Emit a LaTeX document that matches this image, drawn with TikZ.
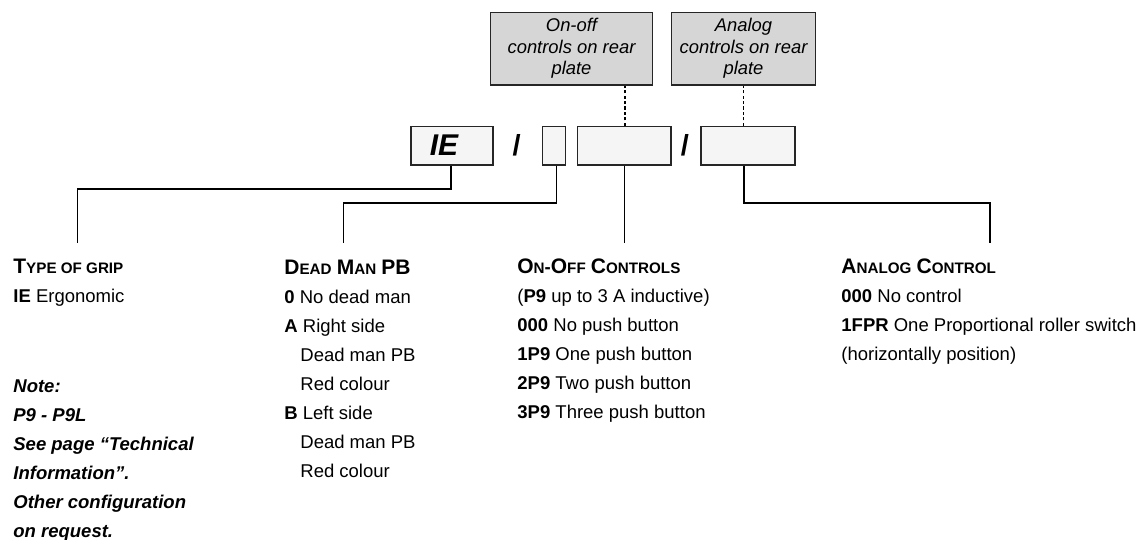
\documentclass[tikz,border=0pt]{standalone}
\usepackage{fontspec}
\setmainfont{Liberation Sans}
\newcommand\hdB[1]{{\fontsize{10.5}{14.5}\selectfont #1}}
\newcommand\hdS[1]{{\fontsize{7.6}{14.5}\selectfont #1}}
\begin{document}
\begin{tikzpicture}[x=0.5pt,y=-0.5pt,
  codebox/.style={draw=black!85, fill=black!4, line width=0.6pt, minimum height=19.25pt, inner sep=0pt},
  platebox/.style={draw=black!85, fill=black!16, line width=0.6pt, minimum height=36.35pt, inner sep=0pt,
    align=center, font=\itshape\fontsize{9.2}{10.75}\selectfont},
  link/.style={draw=black, line width=0.6pt},
  dashlink/.style={draw=black, line width=0.6pt, dash pattern=on 1.6pt off 1.1pt},
  col/.style={anchor=north west, align=left, inner sep=0pt, font=\fontsize{9.25}{14.5}\selectfont},
  slash/.style={font=\bfseries\fontsize{14.5}{16}\selectfont, inner sep=0pt, anchor=base}
]
\useasboundingbox (0,0) rectangle (1140,540);

% plate boxes
\node[platebox, minimum width=80.8pt] (onoff) at (571.5,48.65) {On-off\\controls on rear\\plate};
\node[platebox, minimum width=72.2pt] (analog) at (743.5,48.65) {Analog\\controls on rear\\plate};

% code boxes
\node[codebox, minimum width=41pt] (ie) at (452,145.75) {};
\node[anchor=base, inner sep=0pt, font=\bfseries\itshape\fontsize{15}{16}\selectfont] (ietext) at (444,155.5) {IE};
\node[slash] (s1) at (516.7,155.5) {/};
\node[codebox, minimum width=11.5pt] (sb) at (554.2,145.75) {};
\node[codebox, minimum width=46.65pt] (b3) at (624.35,145.75) {};
\node[slash] (s2) at (685,155.5) {/};
\node[codebox, minimum width=47pt] (b4) at (748,145.75) {};

% dashed links to plates
\draw[dashlink] ([xshift=0.3pt]b3.north) -- ([xshift=0.3pt]b3.north |- onoff.south);
\draw[dashlink] ([xshift=-2.3pt]b4.north) -- ([xshift=-2.3pt]b4.north |- analog.south);

% connector end points
\coordinate (k1) at (77.3,189);
\coordinate (e1) at (77.3,243);
\coordinate (k2) at (343.3,203);
\coordinate (e2) at (343.3,243);
\coordinate (e3) at (624.7,243);
\coordinate (k4) at (990,203);
\coordinate (e4) at (990,243);

\draw[link] ([xshift=-0.5pt]ie.south) |- (k1) -- (e1);
\draw[link] ([xshift=1.25pt]sb.south) |- (k2) -- (e2);
\draw[link] ([xshift=0.15pt]b3.south) -- ([xshift=0.15pt]b3.south |- e3);
\draw[link] ([xshift=-2pt]b4.south) |- (k4) -- (e4);

% text columns
\node[col] (grip) at (13,253.2) {\strut\bfseries\hdB{T}\hdS{YPE OF GRIP}\\
  \textbf{IE} Ergonomic};
\node[col, font=\bfseries\itshape\fontsize{9.25}{14.5}\selectfont] (note) at (13,371.4) {\strut Note:\\
  P9 - P9L\\
  See page “Technical\\
  Information”.\\
  Other configuration\\
  on request.};
\node[col] (dead) at (284,254) {\strut\bfseries\hdB{D}\hdS{EAD} \hdB{M}\hdS{AN} \hdB{PB}\\
  \textbf{0} No dead man\\
  \textbf{A} Right side\\
  \hspace*{8pt}Dead man PB\\
  \hspace*{8pt}Red colour\\
  \textbf{B} Left side\\
  \hspace*{8pt}Dead man PB\\
  \hspace*{8pt}Red colour};
\node[col] (onoffcol) at (517,253.2) {\strut\bfseries\hdB{O}\hdS{N}-\hdB{O}\hdS{FF} \hdB{C}\hdS{ONTROLS}\\
  (\textbf{P9} up to 3 A inductive)\\
  \textbf{000} No push button\\
  \textbf{1P9} One push button\\
  \textbf{2P9} Two push button\\
  \textbf{3P9} Three push button};
\node[col] (analogcol) at (841,253.2) {\strut\bfseries\hdB{A}\hdS{NALOG} \hdB{C}\hdS{ONTROL}\\
  \textbf{000} No control\\
  \textbf{1FPR} One Proportional roller switch\\
  (horizontally position)};
\end{tikzpicture}
\end{document}
